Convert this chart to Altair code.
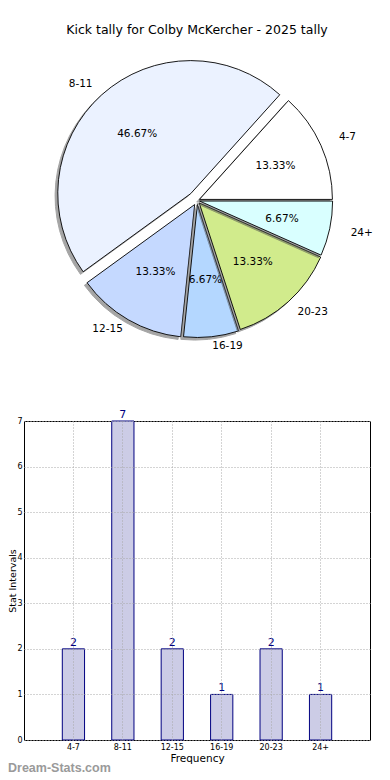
import math
import altair as alt
import pandas as pd

# ---------------- data ----------------
categories = ["4-7", "8-11", "12-15", "16-19", "20-23", "24+"]
counts = [2, 7, 2, 1, 2, 1]
y_ticks = [0, 1, 2, 3, 4, 5, 6, 7]
title_text = "Kick tally for Colby McKercher - 2025 tally"
watermark = ["Dream-Stats.com"]

# ---------------- style ----------------
slice_colors = ["#ffffff", "#ebf2ff", "#c5d9ff", "#b4d7ff", "#d1eb8c", "#d9ffff"]
explode = [0.02, 0.07, 0.035, 0.03, 0.025, 0.02]
FONT = "DejaVu Sans"
PL, PT = 24, 421           # bar plot top-left on the page
W, H = 346, 319            # bar plot area
CX, CY = 197 - PL, 200.5 - PT   # pie centre relative to bar plot origin
R = 133                    # pie radius
RX, RY = 141, 127          # label ellipse (reference pie is slightly oval)
SHX, SHY = -2.7, 2.6       # shadow offset
SHADOW = "#4d4d4d"
GRID = "#a8a8a8"
PB = 40                    # bottom padding

total = sum(counts)
df = pd.DataFrame({"cat": categories, "count": counts})

theta_scale = alt.Scale(domain=[0, total], range=[2.5 * math.pi, 0.5 * math.pi])
fill_enc = alt.Fill("cat:N", scale=alt.Scale(domain=categories, range=slice_colors), legend=None)

pie_base = (
    alt.Chart()
    .transform_joinaggregate(total="sum(count)")
    .transform_window(cum="sum(count)", frame=[None, 0])
    .transform_calculate(
        start="datum.cum - datum.count",
        mid="datum.cum - datum.count / 2",
        pct="format(100 * datum.count / datum.total, '.2f') + '%'",
    )
)

shapes = []
texts = []
cum = 0
for i, (cat, c) in enumerate(zip(categories, counts)):
    m = 2 * math.pi * (cum + c / 2) / total
    cum += c
    dx = explode[i] * R * math.cos(m)
    dy = -explode[i] * R * math.sin(m)
    er = math.hypot(RX * math.cos(m), RY * math.sin(m))
    lab_r = max(1.1 * er, R + 9)
    pct_r = 0.6 * er
    sel = pie_base.transform_filter(alt.datum.cat == cat)
    sel2 = sel.transform_calculate(end_="datum.cum")
    arc_enc = dict(
        theta=alt.Theta("start:Q", scale=theta_scale, stack=None),
        theta2=alt.Theta2("end_:Q"),
    )
    shadow = sel2.mark_arc(radius=R, fill=SHADOW, stroke=SHADOW, strokeWidth=1, opacity=0.5).encode(
        x=alt.value(CX + dx + SHX), y=alt.value(CY + dy + SHY), **arc_enc
    )
    wedge = sel2.mark_arc(radius=R, stroke="black", strokeWidth=0.9).encode(
        x=alt.value(CX + dx), y=alt.value(CY + dy), fill=fill_enc, **arc_enc
    )
    shapes += [shadow, wedge]
    label = sel.mark_text(
        radius=lab_r, align="left" if math.cos(m) > 0 else "right", baseline="middle",
        font=FONT, fontSize=10.5, color="black",
    ).encode(
        x=alt.value(CX + dx), y=alt.value(CY + dy),
        theta=alt.Theta("mid:Q", scale=theta_scale, stack=None), text="cat:N",
    )
    pct = sel.mark_text(
        radius=pct_r, align="center", baseline="middle", font=FONT, fontSize=10.5, color="black",
    ).encode(
        x=alt.value(CX + dx), y=alt.value(CY + dy),
        theta=alt.Theta("mid:Q", scale=theta_scale, stack=None), text="pct:N",
    )
    texts += [label, pct]

# ---------------- bar chart ----------------
x_enc = alt.X(
    "cat:N", sort=categories,
    scale=alt.Scale(paddingInner=0.55, paddingOuter=0.775),
    axis=alt.Axis(
        title="Frequency", labelAngle=0, labelFontSize=8, titleFontSize=10.5,
        titleFontWeight="normal", labelPadding=3, titlePadding=2, ticks=False,
        domain=False, grid=True, gridColor=GRID, gridDash=[1, 2],
        bandPosition=0.5, zindex=1, labelColor="black", titleColor="black",
    ),
)
y_enc = alt.Y(
    "count:Q", scale=alt.Scale(domain=[0, max(counts)], nice=False),
    axis=alt.Axis(
        title="Stat Intervals", values=y_ticks, labelFontSize=8, titleFontSize=9.5,
        titleFontWeight="normal", labelPadding=2, ticks=False,
        titleX=-8.5, titleY=H / 2, titleAngle=270, titleAlign="center",
        titleBaseline="alphabetic",
        domain=False, grid=True, gridColor=GRID, gridDash=[1, 2], zindex=1,
        labelColor="black", titleColor="black",
    ),
)
bars = alt.Chart().mark_bar(fill="#ccccE6", stroke="navy", strokeWidth=1).encode(x=x_enc, y=y_enc)
bar_labels = alt.Chart().mark_text(
    dy=-3, baseline="alphabetic", color="navy", font=FONT, fontSize=11
).encode(x=alt.X("cat:N", sort=categories), y="count:Q", text="count:Q")

wm = alt.Chart(pd.DataFrame({"t": watermark})).mark_text(
    align="left", baseline="middle", font="Liberation Sans", fontSize=12.5,
    fontWeight="bold", color="#9a9a9a"
).encode(x=alt.value(8 - PL), y=alt.value(768 - PT), text="t:N")

chart = alt.layer(
    *shapes, *texts, bars, bar_labels, wm, data=df
).properties(
    width=W, height=H,
    title=alt.Title(title_text, font=FONT, fontSize=12.5, fontWeight="normal",
                    anchor="middle", frame="group", offset=22, color="black"),
    autosize=alt.AutoSizeParams(type="none"),
    padding={"left": PL - 8, "top": PT - 8, "right": 12, "bottom": PB},
).configure_view(stroke="black", strokeWidth=1).configure_axis(
    labelFont=FONT, titleFont=FONT
)

chart.save("out.html", embed_options={"renderer": "svg", "actions": False})
